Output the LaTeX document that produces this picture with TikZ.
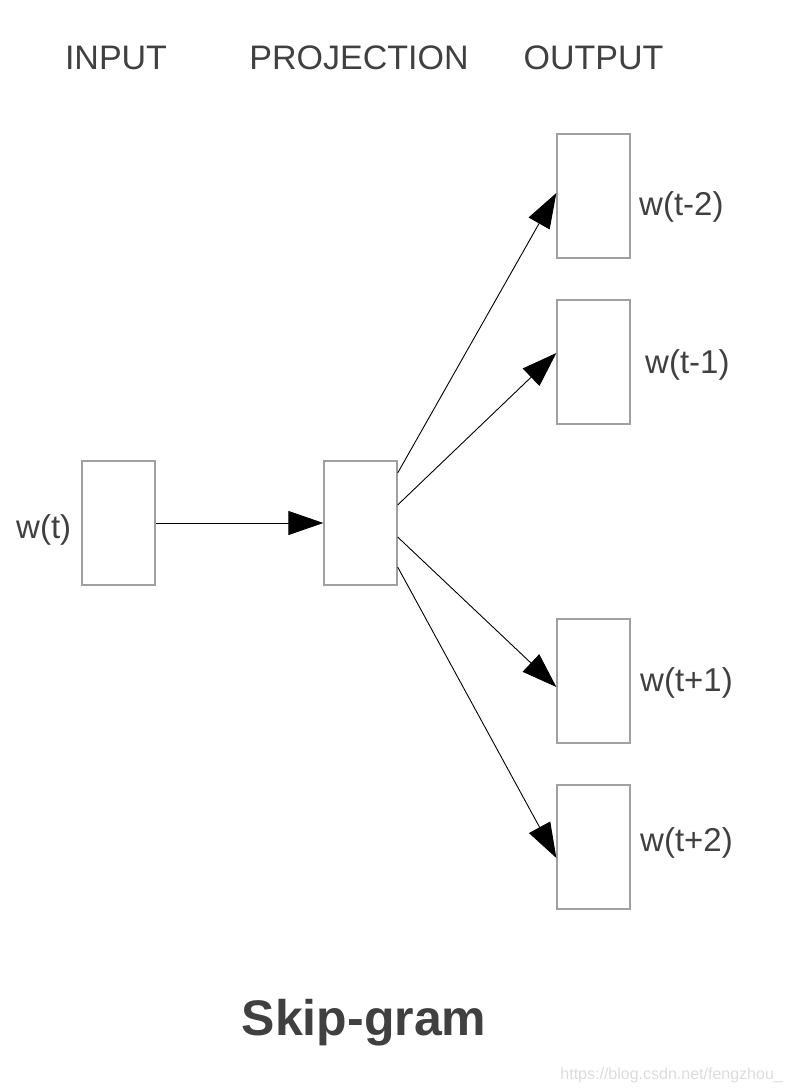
\documentclass[tikz,border=0pt]{standalone}
\usepackage{fontspec}
\setmainfont{Liberation Sans}
\usetikzlibrary{arrows.meta}
\definecolor{txtgray}{HTML}{404040}
\definecolor{boxgray}{HTML}{A0A0A0}
\definecolor{markgray}{HTML}{DCDCDC}
\begin{document}
\begin{tikzpicture}[x=1pt,y=-1pt,
  layer/.style={draw=boxgray,line width=1.3pt,minimum width=73pt,minimum height=124pt,inner sep=0pt},
  wlabel/.style={text=txtgray,font=\fontsize{33}{36}\selectfont,inner sep=0pt,anchor=west},
  head/.style={text=txtgray,font=\fontsize{34}{38}\selectfont,inner sep=0pt},
  flow/.style={line width=0.9pt,-{Triangle[length=35pt,width=24pt]}}]
  \useasboundingbox (0,0) rectangle (792,1092);
  % column titles
  \node[head] (tin) at (116,58) {INPUT};
  \node[head] (tproj) at (359,58) {PROJECTION};
  \node[head] (tout) at (593.5,58) {OUTPUT};
  % layers
  \node[layer] (in) at (118.5,523) {};
  \node[layer] (proj) at (360.5,523) {};
  \node[layer] (om2) at (593.5,196) {};
  \node[layer] (om1) at (593.5,362) {};
  \node[layer] (op1) at (593.5,681) {};
  \node[layer] (op2) at (593.5,847) {};
  % words
  \node[wlabel] (lin) at (16,530) {w(t)};
  \node[wlabel] (lm2) at (639,206.5) {w(t-2)};
  \node[wlabel] (lm1) at (645,365) {w(t-1)};
  \node[wlabel] (lp1) at (640,683) {w(t+1)};
  \node[wlabel] (lp2) at (640,843) {w(t+2)};
  % connections
  \draw[flow] (in.east) -- (proj.west);
  \draw[flow] ([yshift=50pt]proj.east) -- ([yshift=3pt]om2.west);
  \draw[flow] ([yshift=18pt]proj.east) -- ([yshift=9pt]om1.west);
  \draw[flow] ([yshift=-14pt]proj.east) -- ([yshift=-6pt]op1.west);
  \draw[flow] ([yshift=-44pt]proj.east) -- ([yshift=-11pt]op2.west);
  % caption
  \node[text=txtgray,font=\fontsize{50}{56}\selectfont\bfseries,inner sep=0pt,anchor=base] (cap) at (364,1035) {Skip-gram};
  \node[text=markgray,font=\fontsize{16}{18}\selectfont,inner sep=0pt,anchor=base east] (mark) at (783,1079) {https://blog.csdn.net/fengzhou\_};
\end{tikzpicture}
\end{document}
